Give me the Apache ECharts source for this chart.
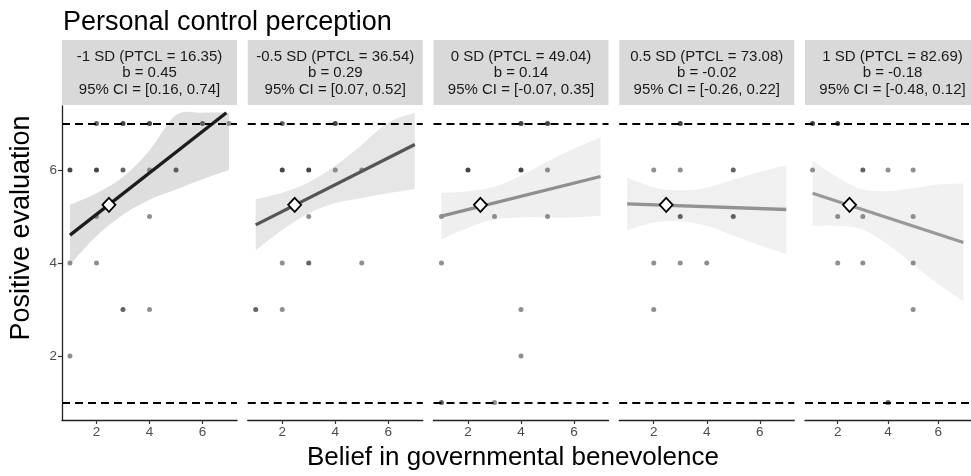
<!DOCTYPE html>
<html>
<head>
<meta charset="utf-8">
<script src="https://cdn.jsdelivr.net/npm/echarts@6/dist/echarts.min.js"></script>
<style>
  html, body { margin: 0; padding: 0; background: #ffffff; }
  #chart { width: 971px; height: 476px; }
</style>
</head>
<body>
<div id="chart"></div>
<script>
// ---------------- DATA ----------------
const chartTitle = 'Personal control perception';
const xTitle = 'Belief in governmental benevolence';
const yTitle = 'Positive evaluation';
const panelLabels = ['-1 SD (PTCL = 16.35)', '-0.5 SD (PTCL = 36.54)', '0 SD (PTCL = 49.04)', '0.5 SD (PTCL = 73.08)', '1 SD (PTCL = 82.69)'];
const slopeLabels = ['0.45', '0.29', '0.14', '-0.02', '-0.18'];
const ciLabels = ['[0.16, 0.74]', '[0.07, 0.52]', '[-0.07, 0.35]', '[-0.26, 0.22]', '[-0.48, 0.12]'];
const xTicks = [2, 4, 6];
const yTicks = [2, 4, 6];
const refLines = [1, 7];
const meanPoint = [2.47, 5.25];

// ribbon sample positions (x) and bounds per panel
const ribbonX = [1, 2, 3, 4, 5, 6, 7];
const ribbonUpper = [
  [5.25, 5.50, 5.85, 6.42, 7.18, 7.23, 7.23],
  [5.37, 5.51, 5.73, 6.09, 6.54, 7.02, 7.23],
  [5.51, 5.54, 5.64, 5.88, 6.18, 6.46, 6.70],
  [5.84, 5.63, 5.56, 5.62, 5.79, 5.96, 6.11],
  [6.20, 5.84, 5.58, 5.55, 5.61, 5.69, 5.71]
];
const ribbonLower = [
  [3.96, 4.58, 5.04, 5.36, 5.58, 5.80, 6.00],
  [4.27, 4.71, 5.07, 5.29, 5.40, 5.50, 5.59],
  [4.51, 4.76, 4.94, 4.98, 4.98, 4.98, 5.02],
  [4.70, 4.87, 4.90, 4.80, 4.59, 4.38, 4.19],
  [4.80, 4.80, 4.72, 4.39, 3.97, 3.55, 3.17]
];
// fitted regression line end points per panel [x, y]
const fitStart = [[1, 4.60], [1, 4.82], [1, 5.01], [1, 5.27], [1, 5.50]];
const fitEnd = [[6.90, 7.23], [7, 6.55], [7, 5.86], [7, 5.15], [7, 4.44]];

// observed points per panel: [x, y, overlap count]
const points1 = [[2,7,2],[3,7,3],[4,7,3],[6,7,2],[7,7,1],[1,6,3],[2,6,3],[3,6,2],[4,6,1],[5,6,2],[2,5,1],[4,5,1],[1,4,1],[2,4,1],[3,3,2],[4,3,1],[1,2,1]];
const points2 = [[2,7,2],[4,7,3],[2,6,3],[3,6,3],[4,6,1],[5,6,1],[3,5,1],[2,4,1],[3,4,2],[5,4,1],[1,3,2],[2,3,1]];
const points3 = [[4,7,3],[5,7,3],[2,6,3],[4,6,3],[5,6,1],[1,5,1],[3,5,1],[5,5,1],[1,4,1],[4,3,1],[4,2,1],[1,1,2],[3,1,1]];
const points4 = [[3,7,3],[2,6,1],[3,6,1],[5,6,2],[3,5,2],[5,5,2],[2,4,1],[3,4,1],[4,4,1],[2,3,1]];
const points5 = [[1,7,3],[2,7,3],[1,6,1],[3,6,2],[4,6,1],[5,6,1],[2,5,1],[3,5,1],[5,5,1],[2,4,1],[3,4,1],[5,4,1],[5,3,1],[4,1,2]];
const panelPoints = [points1, points2, points3, points4, points5];

// ---------------- STYLE / LAYOUT ----------------
const FONT = 'Liberation Sans, Arial, sans-serif';
const PANEL_LEFT0 = 62, PANEL_STEP = 185.75, PANEL_W = 175;
const PANEL_TOP = 106, PANEL_H = 314;
const STRIP_TOP = 40, STRIP_H = 65;
const lineColors = ['#1c1c1c', '#555555', '#8e8e8e', '#929292', '#999999'];
const ribbonColors = ['#dedede', '#e6e6e6', '#efefef', '#f0f0f0', '#f1f1f1'];
const pointColor = n => n >= 3 ? '#161616' : (n === 2 ? '#3c3c3c' : '#737373');

// Catmull-Rom smoothed path segment through pixel points (continues an open path)
function splineTo(pts) {
  let d = '';
  for (let k = 0; k < pts.length - 1; k++) {
    const p0 = pts[Math.max(k - 1, 0)], p1 = pts[k], p2 = pts[k + 1], p3 = pts[Math.min(k + 2, pts.length - 1)];
    const c1 = [p1[0] + (p2[0] - p0[0]) / 6, p1[1] + (p2[1] - p0[1]) / 6];
    const c2 = [p2[0] - (p3[0] - p1[0]) / 6, p2[1] - (p3[1] - p1[1]) / 6];
    d += ' C' + c1[0] + ',' + c1[1] + ' ' + c2[0] + ',' + c2[1] + ' ' + p2[0] + ',' + p2[1];
  }
  return d;
}

function ribbonRenderer(i) {
  return function (params, api) {
    const up = ribbonX.map((x, k) => api.coord([x, ribbonUpper[i][k]]));
    const lo = ribbonX.map((x, k) => api.coord([x, ribbonLower[i][k]])).reverse();
    let d = 'M' + up[0][0] + ',' + up[0][1] + splineTo(up);
    d += ' L' + lo[0][0] + ',' + lo[0][1] + splineTo(lo) + ' Z';
    return { type: 'path', shape: { pathData: d }, style: { fill: ribbonColors[i], stroke: null } };
  };
}

const grids = [], xAxes = [], yAxes = [], series = [], graphics = [];

for (let i = 0; i < 5; i++) {
  const left = PANEL_LEFT0 + i * PANEL_STEP;
  grids.push({ left: left, top: PANEL_TOP, width: PANEL_W, height: PANEL_H, containLabel: false });
  xAxes.push({
    type: 'value', gridIndex: i, min: 0.7, max: 7.3,
    axisLine: { show: true, lineStyle: { color: '#222', width: 1.3 } },
    axisTick: { show: true, customValues: xTicks, length: 4, lineStyle: { color: '#333', width: 1.2 } },
    axisLabel: { show: true, customValues: xTicks, color: '#4d4d4d', fontSize: 13.5, fontFamily: FONT, margin: 5 },
    splitLine: { show: false }
  });
  yAxes.push({
    type: 'value', gridIndex: i, min: 0.624, max: 7.376, show: i === 0,
    axisLine: { show: i === 0, lineStyle: { color: '#222', width: 1.3 } },
    axisTick: { show: i === 0, customValues: yTicks, length: 4, lineStyle: { color: '#333', width: 1.2 } },
    axisLabel: { show: i === 0, customValues: yTicks, color: '#4d4d4d', fontSize: 13.5, fontFamily: FONT, margin: 5 },
    splitLine: { show: false }
  });

  // confidence ribbon
  series.push({
    type: 'custom', xAxisIndex: i, yAxisIndex: i, z: 1, silent: true, clip: true,
    renderItem: ribbonRenderer(i),
    encode: { x: 0, y: 1 },
    data: [meanPoint]
  });

  // observed points + reference dashed lines
  series.push({
    type: 'scatter', xAxisIndex: i, yAxisIndex: i, symbolSize: 5, z: 2,
    itemStyle: { color: p => pointColor(p.value[2]) },
    data: panelPoints[i],
    markLine: {
      silent: true, symbol: 'none', animation: false,
      label: { show: false },
      lineStyle: { color: '#000', width: 1.8, type: [8, 5], opacity: 1 },
      emphasis: { disabled: true },
      data: refLines.map(v => ({ yAxis: v }))
    }
  });

  // fitted line
  series.push({
    type: 'line', xAxisIndex: i, yAxisIndex: i, symbol: 'none', z: 3, silent: true,
    lineStyle: { color: lineColors[i], width: 3.3, cap: 'butt' },
    data: [fitStart[i], fitEnd[i]]
  });

  // mean diamond
  series.push({
    type: 'scatter', xAxisIndex: i, yAxisIndex: i, symbol: 'diamond', symbolSize: [13, 14], z: 4, silent: true,
    itemStyle: { color: '#ffffff', borderColor: '#000', borderWidth: 1.8, opacity: 1 },
    data: [meanPoint]
  });

  // strip
  graphics.push({
    type: 'rect', left: left, top: STRIP_TOP,
    shape: { width: PANEL_W, height: STRIP_H },
    style: { fill: '#d9d9d9' }
  });
  graphics.push({
    type: 'text', x: left + PANEL_W / 2, y: STRIP_TOP + STRIP_H / 2 + 0.5,
    style: {
      text: panelLabels[i] + '\nb = ' + slopeLabels[i] + '\n95% CI = ' + ciLabels[i],
      fill: '#1a1a1a', font: '15px ' + FONT, textAlign: 'center', textVerticalAlign: 'middle', lineHeight: 16.5
    }
  });
}

graphics.push({
  type: 'text', x: 63, y: 23,
  style: { text: chartTitle, fill: '#000', font: '27px ' + FONT, textAlign: 'left', textVerticalAlign: 'middle' }
});
graphics.push({
  type: 'text', x: 513, y: 458,
  style: { text: xTitle, fill: '#000', font: '26px ' + FONT, textAlign: 'center', textVerticalAlign: 'middle' }
});
graphics.push({
  type: 'text', x: 22, y: 228, rotation: Math.PI / 2,
  style: { text: yTitle, fill: '#000', font: '27px ' + FONT, textAlign: 'center', textVerticalAlign: 'middle' }
});

const chart = echarts.init(document.getElementById('chart'), null, { renderer: 'canvas' });
chart.setOption({
  animation: false,
  backgroundColor: '#ffffff',
  grid: grids,
  xAxis: xAxes,
  yAxis: yAxes,
  series: series,
  graphic: graphics
});
</script>
</body>
</html>
